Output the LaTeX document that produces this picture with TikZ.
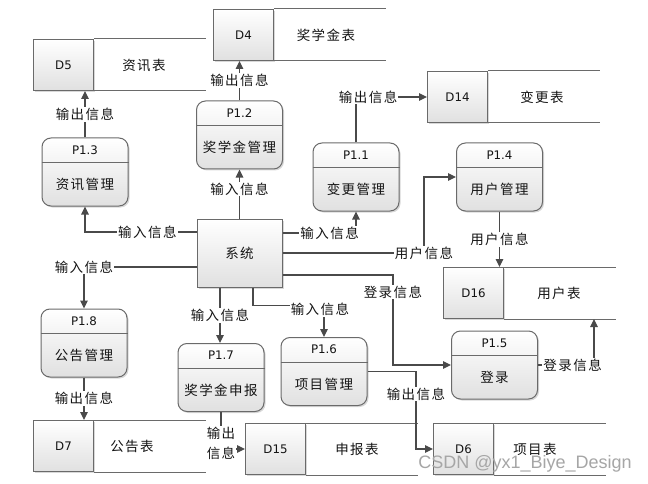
\documentclass[tikz,border=0pt]{standalone}
\usepackage{fontspec}
\setmainfont{Noto Sans CJK SC}
\newfontfamily\cjkf{Noto Sans CJK SC}[LetterSpace=11]
\newfontfamily\idf{DejaVu Sans}
\newfontfamily\wmf{Liberation Sans}
\usetikzlibrary{arrows.meta,shadows,calc}
\definecolor{ln}{HTML}{4A4A4A}
\definecolor{bd}{HTML}{6A6A6A}
\tikzset{
 cjkfont/.style={font=\cjkf\fontsize{13.5}{20}\selectfont},
 cjk/.style={cjkfont, text=black!92, inner sep=1pt},
 lbl/.style={cjk, fill=white},
 idtext/.style={font=\idf\fontsize{11.8}{14}\selectfont, text=black!92, inner sep=0pt},
 procbox/.style={draw=bd, line width=1pt, rounded corners=9pt, top color=white, bottom color=black!12,
   minimum width=86pt, minimum height=68pt, inner sep=0pt,
   drop shadow={shadow xshift=1.5pt, shadow yshift=-1.5pt, fill=black!30}},
 sysbox/.style={procbox, sharp corners, minimum width=85pt},
 storeid/.style={draw=bd, line width=1pt, top color=white, bottom color=black!12,
   minimum width=60pt, minimum height=51pt, anchor=north west, inner sep=0pt,
   font=\idf\fontsize{11.8}{14}\selectfont, text=black!92,
   drop shadow={shadow xshift=1.2pt, shadow yshift=-1.2pt, fill=black!30}},
 storeline/.style={draw=bd, line width=1pt},
 flow/.style={draw=ln, line width=1.1pt, -{Triangle[length=8pt,width=7.5pt]}},
}
\newcommand\procnode[5]{%
 \node[procbox] (#1) at (#2,#3) {};
 \draw[storeline] ([yshift=-25pt]#1.north west) -- ([yshift=-25pt]#1.north east);
 \node[idtext] (#1id) at ([yshift=-12.5pt]#1.north) {#4};
 \node[cjk] (#1name) at ([yshift=-12.5pt]#1.center) {#5};}
\newcommand\dstore[6]{%
 \node[storeid] (#1) at (#2,#3) {#4};
 \draw[storeline] (#1.north east) -- ++(112pt,0pt);
 \draw[storeline] (#1.south east) -- ++(112pt,0pt);
 \node[cjk] (#1t) at ([xshift=#6pt]#1.east) {#5};}
\begin{document}
\begin{tikzpicture}[x=1pt,y=-1pt]
\fill[white] (0,0) rectangle (648,484);
\useasboundingbox (0,0) rectangle (648,484);
% data stores
\dstore{d5}{33}{39}{D5}{资讯表}{50}
\dstore{d4}{213}{9}{D4}{奖学金表}{52}
\dstore{d14}{427}{71}{D14}{变更表}{54}
\dstore{d16}{443}{267}{D16}{用户表}{55}
\dstore{d7}{33}{420}{D7}{公告表}{38}
\dstore{d15}{245}{423}{D15}{申报表}{51}
\dstore{d6}{433}{423}{D6}{项目表}{41}
% processes
\procnode{p13}{85}{172}{P1.3}{资讯管理}
\procnode{p12}{239.5}{135}{P1.2}{奖学金管理}
\procnode{p11}{356}{177}{P1.1}{变更管理}
\procnode{p14}{499.5}{177}{P1.4}{用户管理}
\procnode{p15}{494.5}{365}{P1.5}{登录}
\procnode{p16}{324}{371.5}{P1.6}{项目管理}
\procnode{p17}{221}{377.5}{P1.7}{奖学金申报}
\procnode{p18}{84}{343}{P1.8}{公告管理}
% system
\node[sysbox, cjkfont, text=black!92] (sys) at (239.5,253) {系统};
% flows
\draw[flow] (sys.north) -- node[lbl,pos=.6] (l1) {输入信息} (p12.south);
\draw[flow] (p12.north) -- node[lbl] (l2) {输出信息} (p12.north |- d4.south);
\draw[flow] (p13.north) -- node[lbl] (l3) {输出信息} (p13.north |- d5.south);
\draw[flow] ([yshift=21pt]sys.west) -| node[lbl,pos=.22] (l4) {输入信息} (p13.south);
\draw[flow] ([yshift=20pt]sys.east) -| node[lbl,pos=.32] (l5) {输入信息} (p11.south);
\draw[flow] (p11.north) |- node[lbl,pos=.585] (l6) {输出信息} (d14.west);
\coordinate (c7) at ([xshift=-32pt]p14.west);
\draw[flow] (sys.east) -| node[lbl,pos=.5] (l7) {用户信息} (c7) -- (p14.west);
\draw[flow] (p14.south) -- node[lbl] (l8) {用户信息} (p14.south |- d16.north);
\coordinate (c9) at ([xshift=-58pt]p15.west);
\draw[flow] ([yshift=-22pt]sys.east) -| node[lbl,pos=.594] (l9) {登录信息} (c9) -- (p15.west);
\draw[flow] (p15.east) -| node[lbl,pos=.31] (l10) {登录信息} ([xshift=90pt]d16.south east);
\coordinate (c11) at ([yshift=31.5pt]p16.north);
\draw[flow] ([xshift=13.5pt]sys.south) |- (c11) -- (p16.north);
\node[lbl] (l11) at ([xshift=-4pt,yshift=-4pt]c11) {输入信息};
\draw[flow] ([xshift=-19.5pt]sys.south) -- node[lbl] (l12) {输入信息} ([xshift=-19.5pt]sys.south |- p17.north);
\draw[flow] ([yshift=-14pt]sys.west) -| node[lbl,pos=.5] (l13) {输入信息} (p18.north);
\draw[flow] (p18.south) -- node[lbl] (l14) {输出信息} (p18.south |- d7.north);
\draw[flow] (p17.south) |- node[lbl,pos=.5,yshift=6pt,align=center] (l15) {输出\\信息} (d15.west);
\coordinate (c16) at ([xshift=-17pt]d6.west);
\draw[flow] (p16.east) -| node[lbl,pos=.646] (l16) {输出信息} (c16) -- (d6.west);
% watermark
\node[font=\wmf\fontsize{18}{20}\selectfont, text=black!35, inner sep=0pt] (wm) at (525,464) {CSDN @yx1\_Biye\_Design};
\end{tikzpicture}
\end{document}
